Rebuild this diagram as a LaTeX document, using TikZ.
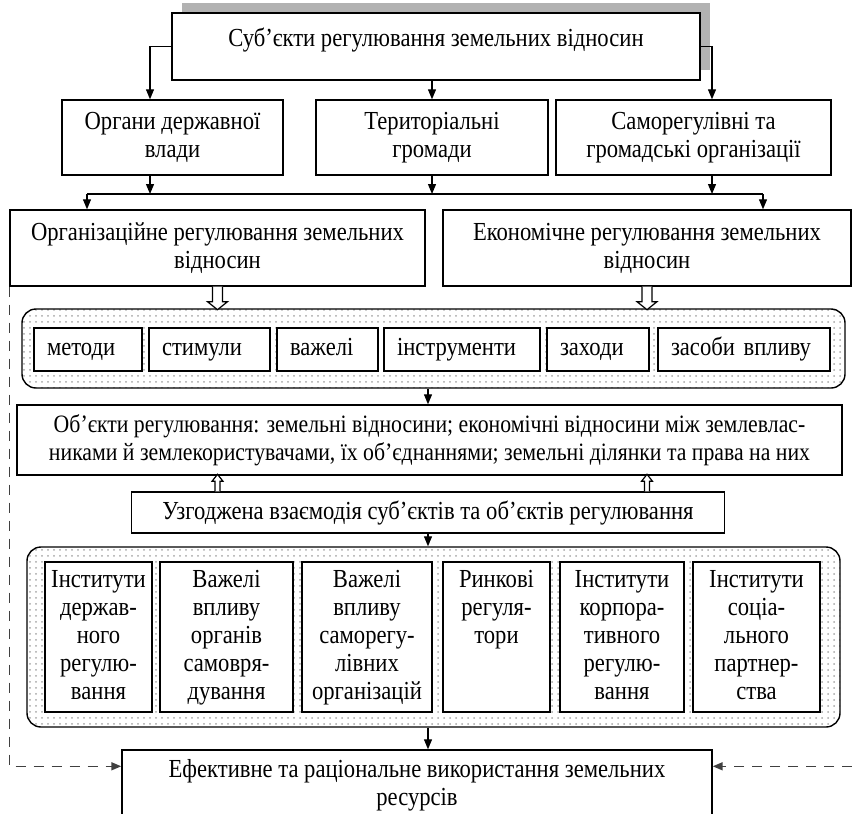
\documentclass[tikz,border=0pt]{standalone}
\usepackage{fontspec}
\setmainfont{Liberation Serif}[FakeStretch=0.87]
\usetikzlibrary{arrows.meta}
\usetikzlibrary{positioning}
\usetikzlibrary{calc}
\usetikzlibrary{patterns}
\usetikzlibrary{shadows}

\begin{document}
\begin{tikzpicture}[x=0.5pt,y=-0.5pt,
  every node/.style={font=\fontsize{13pt}{14pt}\selectfont},
  box/.style={draw,line width=0.7pt,fill=white,align=center,inner sep=0pt},
  dotbox/.style={draw,line width=0.7pt,rounded corners=7pt,pattern=dots,pattern color=black!35,inner sep=0pt},
  tool/.style={box,minimum height=21.5pt,align=left,inner xsep=6.5pt,text height=9pt,text depth=3pt},
  lever/.style={box,text height=9.5pt,text depth=59.5pt,inner xsep=2pt,inner ysep=3pt},
  arr/.style={line width=0.6pt,-{Triangle[length=5pt,width=4pt]}},
  hollow/.style={line width=0.6pt,fill=white},
  back/.style={dash pattern=on 5pt off 4pt,line width=0.8pt,black!75,-{Triangle[length=5pt,width=4pt]}}]

  \useasboundingbox (0,0) rectangle (852,814);
  \clip (0,0) rectangle (852,814);

  % subjects
  \node[box,minimum width=264pt,minimum height=33.5pt,text height=9pt,text depth=9.5pt,
    drop shadow={shadow xshift=5pt,shadow yshift=5pt,fill=black!30,opacity=1}] (subj) at (436,46.5) {Суб’єкти регулювання земельних відносин};
  \node[box,minimum width=110.5pt,minimum height=37.5pt] (gov) at (172.5,137.5) {Органи державної\\влади};
  \node[box,minimum width=116pt,minimum height=37.5pt] (terr) at (432,137.5) {Територіальні\\громади};
  \node[box,minimum width=137.5pt,minimum height=37.5pt] (selfreg) at (693.5,137.5) {Саморегулівні та\\громадські організації};

  \node[box,minimum width=207.5pt,minimum height=38pt] (orgreg) at (217.5,248) {Організаційне регулювання земельних\\відносин};
  \node[box,minimum width=204pt,minimum height=38pt] (ecreg) at (647,248) {Економічне регулювання земельних\\відносин};

  % tools
  \node[dotbox,minimum width=411.5pt,minimum height=39.5pt] (tools) at (433.5,348.5) {};
  \node[tool,text width=41pt] (t1) at (88,349.5) {методи};
  \node[tool,text width=47.5pt] (t2) at (209.5,349.5) {стимули};
  \node[tool,text width=37.5pt] (t3) at (327.5,349.5) {важелі};
  \node[tool,text width=65pt] (t4) at (462,349.5) {інструменти};
  \node[tool,text width=38pt] (t5) at (598,349.5) {заходи};
  \node[tool,text width=73pt] (t6) at (744,349.5) {засоби впливу};

  \node[box,minimum width=412.5pt,minimum height=35pt,font=\fontsize{12.5pt}{14pt}\selectfont] (obj) at (429.5,440) {Об’єкти регулювання: земельні відносини; економічні відносини між землевлас-\\никами й землекористувачами, їх об’єднаннями; земельні ділянки та права на них};
  \node[box,minimum width=296.5pt,minimum height=20.5pt] (coord) at (428,512.5) {Узгоджена взаємодія суб’єктів та об’єктів регулювання};

  % institutions
  \node[dotbox,minimum width=406.5pt,minimum height=90pt] (inst) at (433.5,637) {};
  \node[lever,text width=49.5pt] (i1) at (98.5,637) {Інститути\\держав-\\ного\\регулю-\\вання};
  \node[lever,text width=62.5pt] (i2) at (226.5,637) {Важелі\\впливу\\органів\\самовря-\\дування};
  \node[lever,text width=61pt] (i3) at (367,637) {Важелі\\впливу\\саморегу-\\лівних\\організацій};
  \node[lever,text width=49.5pt] (i4) at (496.5,637) {Ринкові\\регуля-\\тори};
  \node[lever,text width=58pt] (i5) at (622,637) {Інститути\\корпора-\\тивного\\регулю-\\вання};
  \node[lever,text width=59.5pt] (i6) at (756.5,637) {Інститути\\соціа-\\льного\\партнер-\\ства};

  \node[box,minimum width=295pt,minimum height=35pt] (eff) at (417,785) {Ефективне та раціональне використання земельних\\ресурсів};

  % arrows
  \draw[arr] (subj.west) -| ([xshift=-11.25pt]gov.north);
  \draw[arr] (subj.south -| terr.north) -- (terr.north);
  \draw[arr] (subj.east) -| ([xshift=9.25pt]selfreg.north);
  \coordinate (busl) at (87,194);
  \coordinate (busr) at (763,194);
  \draw[arr] ([xshift=-11.25pt]gov.south) -- ([xshift=-11.25pt]gov.south |- busl);
  \draw[arr] (terr.south) -- (terr.south |- busl);
  \draw[arr] ([xshift=9.25pt]selfreg.south) -- ([xshift=9.25pt]selfreg.south |- busl);
  \draw[line width=0.6pt] (busl) -- (busr);
  \draw[arr] (busl) -- (busl |- orgreg.north);
  \draw[arr] (busr) -- (busr |- ecreg.north);

  \draw[hollow] (orgreg.south) ++(-5,0) -- ++(0,15) -- ++(-5,0) -- ++(10,8) -- ++(10,-8) -- ++(-5,0) -- ++(0,-15);
  \draw[hollow] (ecreg.south) ++(-5,0) -- ++(0,15) -- ++(-5,0) -- ++(10,8) -- ++(10,-8) -- ++(-5,0) -- ++(0,-15);
  \draw[arr] (tools.south -| coord) -- (obj.north -| coord);
  \draw[hollow] (coord.north -| orgreg.south) ++(-2.5,0) -- ++(0,-10) -- ++(-3,0) -- ++(5.5,-7) -- ++(5.5,7) -- ++(-3,0) -- ++(0,10);
  \draw[hollow] (coord.north -| ecreg.south) ++(-2.5,0) -- ++(0,-10) -- ++(-3,0) -- ++(5.5,-7) -- ++(5.5,7) -- ++(-3,0) -- ++(0,10);
  \draw[arr] (coord.south) -- (coord.south |- inst.north);
  \draw[arr] (inst.south -| coord) -- (eff.north -| coord);

  % feedback
  \coordinate (lin) at ($(eff.north west)+(0,17)$);
  \coordinate (rin) at (852,0 |- lin);
  \draw[back] (orgreg.south west) |- (lin);
  \draw[back] (rin) -- (eff.east |- rin);
\end{tikzpicture}
\end{document}
